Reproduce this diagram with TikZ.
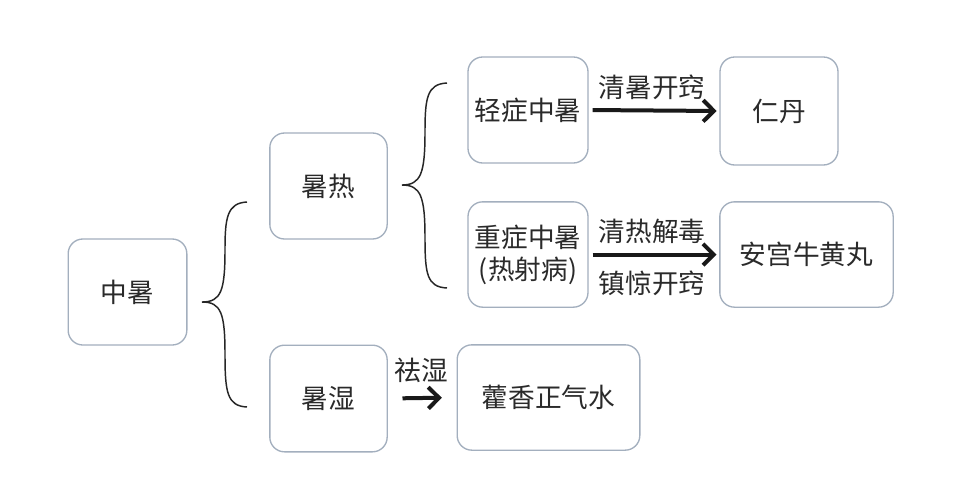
\documentclass[tikz,border=0pt]{standalone}
\usepackage{fontspec}
\setmainfont{Noto Sans CJK SC}
\usetikzlibrary{arrows.meta}
\definecolor{boxLine}{HTML}{A3AFBE}
\definecolor{txtInk}{HTML}{2A2A2A}
\tikzset{
  herb/.style={draw=boxLine,line width=1pt,rounded corners=11pt,text=txtInk,
    font=\fontsize{20}{24}\selectfont,align=center,inner sep=0pt},
  how/.style={text=txtInk,font=\fontsize{20}{24}\selectfont,inner sep=0pt},
  cure/.style={line width=3pt,draw=black!90,-{Straight Barb[length=8pt,width=16pt]}},
  curly/.style={line width=1.1pt,draw=black!85},
}

\begin{document}
\begin{tikzpicture}[x=0.75pt,y=-0.75pt]
  \fill[white] (0,0) rectangle (972,490);
  \useasboundingbox (0,0) rectangle (972,490);

  % boxes
  \node[herb,minimum width=89pt,minimum height=79.5pt] (zs) at (127.5,292) {中暑};
  \node[herb,minimum width=88pt,minimum height=79.5pt] (sr) at (328.5,186) {暑热};
  \node[herb,minimum width=88pt,minimum height=80pt]   (ss) at (328.5,398.5) {暑湿};
  \node[herb,minimum width=90pt,minimum height=79.5pt] (qz) at (528,110) {轻症中暑};
  \node[herb,minimum width=88.5pt,minimum height=81pt] (rd) at (779,111) {仁丹};
  \node[herb,minimum width=90pt,minimum height=79pt]   (zz) at (528,254.5) {重症中暑\\(热射病)};
  \node[herb,minimum width=130pt,minimum height=79pt]  (ag) at (806.5,254.5) {安宫牛黄丸};
  \node[herb,minimum width=137pt,minimum height=79pt]  (hx) at (548.5,397.5) {藿香正气水};

  % braces
  \draw[curly] (247,202) .. controls (227,203) and (225,218) .. (225,250)
    .. controls (225,291) and (221,302) .. (202,302)
    .. controls (221,302) and (225,313) .. (225,354)
    .. controls (225,392) and (227,406) .. (247,407);
  \draw[curly] (447,83) .. controls (427,84) and (425,98) .. (425,132)
    .. controls (425,173) and (421,185) .. (402,185)
    .. controls (421,185) and (425,197) .. (425,238)
    .. controls (425,274) and (427,287) .. (447,288);

  % arrows
  \draw[cure,shorten <=3pt,shorten >=2pt] (qz.east) -- (rd.west);
  \draw[cure,shorten <=3pt,shorten >=2pt] (zz.east) -- (ag.west);
  \draw[cure,shorten <=11pt,shorten >=11pt] (ss.east) -- (hx.west);

  % labels
  \node[how] (l1) at (652,87)  {清暑开窍};
  \node[how] (l2) at (652,231) {清热解毒};
  \node[how] (l3) at (652,283) {镇惊开窍};
  \node[how] (l4) at (421,370) {祛湿};
\end{tikzpicture}
\end{document}
